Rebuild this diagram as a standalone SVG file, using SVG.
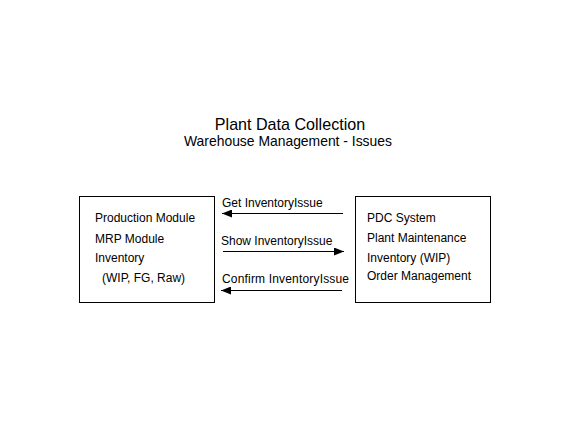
<svg xmlns="http://www.w3.org/2000/svg" width="587" height="439" viewBox="0 0 587 439">
<style>
.box{fill:#fff;stroke:#000;stroke-width:1}
.t{font-family:"Liberation Sans",Arial,sans-serif;font-size:12px;fill:#000}
.c{stroke:#000;stroke-width:1;fill:none}
</style>
<defs>
<marker id="ah" viewBox="0 0 10 8" refX="10" refY="4" markerWidth="10" markerHeight="8" markerUnits="userSpaceOnUse" orient="auto">
<path d="M0,0 L10,4 L0,8 Z" fill="#000"/>
</marker>
</defs>
<rect width="587" height="439" fill="#fff"/>
<g id="title">
<text x="290" y="130" text-anchor="middle" font-family="Liberation Sans,Arial,sans-serif" font-size="16.1">Plant Data Collection</text>
<text x="288" y="146" text-anchor="middle" font-family="Liberation Sans,Arial,sans-serif" font-size="13.9">Warehouse Management - Issues</text>
</g>
<g id="left">
<rect class="box" x="79.5" y="196.5" width="135" height="106"/>
<text class="t" x="95" y="222">Production Module</text>
<text class="t" x="95" y="243">MRP Module</text>
<text class="t" x="95" y="262">Inventory</text>
<text class="t" x="102" y="282">(WIP, FG, Raw)</text>
</g>
<g id="right">
<rect class="box" x="355.5" y="196.5" width="135" height="106"/>
<text class="t" x="367" y="222">PDC System</text>
<text class="t" x="367" y="242">Plant Maintenance</text>
<text class="t" x="367" y="262">Inventory (WIP)</text>
<text class="t" x="367" y="280">Order Management</text>
</g>
<g id="connectors">
<line class="c" x1="343" y1="213.5" x2="222" y2="213.5" marker-end="url(#ah)"/>
<text class="t" x="222" y="207">Get InventoryIssue</text>
<line class="c" x1="223" y1="251.5" x2="344" y2="251.5" marker-end="url(#ah)"/>
<text class="t" x="221" y="245">Show InventoryIssue</text>
<line class="c" x1="342" y1="290.5" x2="221" y2="290.5" marker-end="url(#ah)"/>
<text class="t" x="222" y="283" textLength="127">Confirm InventoryIssue</text>
</g>
</svg>
